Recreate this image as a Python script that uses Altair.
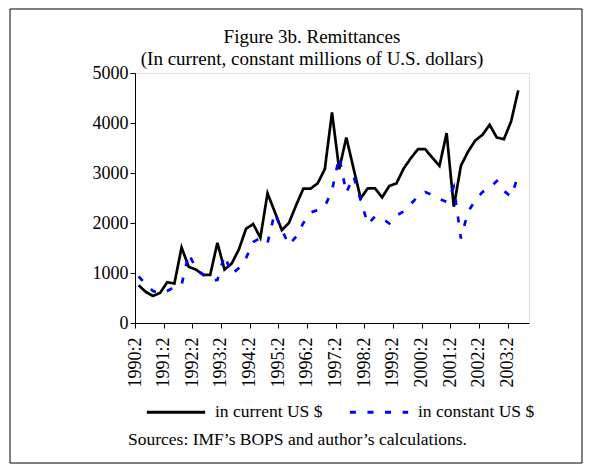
import json
import altair as alt
import pandas as pd

quarters = [f"{1990 + (i + 1) // 4}:{(i + 1) % 4 + 1}" for i in range(54)]

current_usd = [755, 622, 541, 602, 815, 789, 1511, 1123, 1070, 963,
               963, 1604, 1070, 1190, 1471, 1885, 1979, 1705, 2594, 2226,
               1858, 2005, 2360, 2687, 2687, 2794, 3080, 4211, 3075, 3710,
               3095, 2493, 2694, 2694, 2513, 2741, 2794, 3088, 3295, 3476,
               3476, 3309, 3142, 3797, 2326, 3148, 3429, 3650, 3763, 3964,
               3710, 3676, 4031, 4652]

constant_usd = [930, 780, 640, 590, 640, 720, 760, 1390, 1090, 970,
                855, 860, 1357, 976, 1100, 1300, 1620, 1700, 1600, 2200,
                1860, 1560, 1730, 2000, 2210, 2260, 2330, 2650, 3320, 2600,
                2940, 2460, 1975, 2130, 2090, 1990, 2150, 2230, 2380, 2530,
                2620, 2560, 2480, 2420, 2720, 1690, 2230, 2450, 2620, 2700,
                2840, 2640, 2530, 2950]

series_names = ["in current US $", "in constant US $"]
series_colors = ["#000000", "#0000ff"]
tick_labels = ["1990:2", "1991:2", "1992:2", "1993:2", "1994:2", "1995:2", "1996:2",
               "1997:2", "1998:2", "1999:2", "2000:2", "2001:2", "2002:2", "2003:2"]
y_ticks = [0, 1000, 2000, 3000, 4000, 5000]
title_lines = ["Figure 3b. Remittances", "(In current, constant millions of U.S. dollars)"]
source_note = "Sources: IMF\u2019s BOPS and author\u2019s calculations."

rows = []
for name, vals in zip(series_names, [current_usd, constant_usd]):
    for i, (q, v) in enumerate(zip(quarters, vals)):
        rows.append({"pos": i + 0.5, "quarter": q, "series": name, "value": v})
df = pd.DataFrame(rows)

FONT = "Liberation Serif"
n_categories = 55

legend = alt.Legend(
    title=None, orient="none", legendX=10, legendY=308, direction="horizontal",
    columns=2, symbolType="stroke", symbolSize=3400, symbolStrokeWidth=3,
    labelFont=FONT, labelFontSize=17.5, labelColor="black", labelOffset=8,
    columnPadding=20, labelLimit=300,
)

lines = alt.Chart(df).mark_line(strokeWidth=2.7).encode(
    x=alt.X("pos:Q",
            scale=alt.Scale(domain=[0, n_categories], nice=False, zero=False),
            axis=alt.Axis(values=list(range(0, 53, 4)),
                          labelExpr=json.dumps(tick_labels) + "[round(datum.value / 4)]",
                          title=None, grid=False, labelAngle=270, labelFont=FONT,
                          labelFontSize=18, labelColor="black", labelPadding=9,
                          tickSize=5, tickColor="black", domainColor="black",
                          labelOverlap=False)),
    y=alt.Y("value:Q",
            scale=alt.Scale(domain=[0, 5000], nice=False),
            axis=alt.Axis(values=y_ticks, format="d", title=None, grid=False,
                          labelFont=FONT, labelFontSize=18, labelColor="black",
                          labelPadding=2, tickSize=5, tickColor="black",
                          domainColor="black")),
    color=alt.Color("series:N", scale=alt.Scale(domain=series_names, range=series_colors),
                    legend=legend),
    strokeDash=alt.StrokeDash("series:N",
                              scale=alt.Scale(domain=series_names, range=[[1, 0], [6, 11.6]]),
                              legend=legend),
    order=alt.Order("pos:Q"),
)

note = alt.Chart(pd.DataFrame({"t": [source_note]})).mark_text(
    font=FONT, fontSize=17.5, align="left", baseline="middle", color="black"
).encode(x=alt.value(-7), y=alt.value(367), text="t:N")

frame = alt.Chart(pd.DataFrame({"a": [0]})).mark_rect(
    fill="transparent", stroke="black", strokeWidth=1
).encode(x=alt.value(-125), x2=alt.value(447), y=alt.value(-64), y2=alt.value(390))

chart = alt.layer(frame, lines, note).properties(
    width=394, height=250,
    title=alt.TitleParams(text=title_lines, font=FONT, fontSize=19, fontWeight="normal",
                          anchor="middle", dx=-20, dy=60, offset=0, lineHeight=22,
                          color="black"),
    autosize=alt.AutoSizeParams(type="none"),
    padding={"left": 127, "top": 65, "right": 55, "bottom": 141},
).configure_view(stroke="#999999", strokeWidth=1.5).configure(background="white")

chart.save("out.html", embed_options={"renderer": "svg", "actions": False})
